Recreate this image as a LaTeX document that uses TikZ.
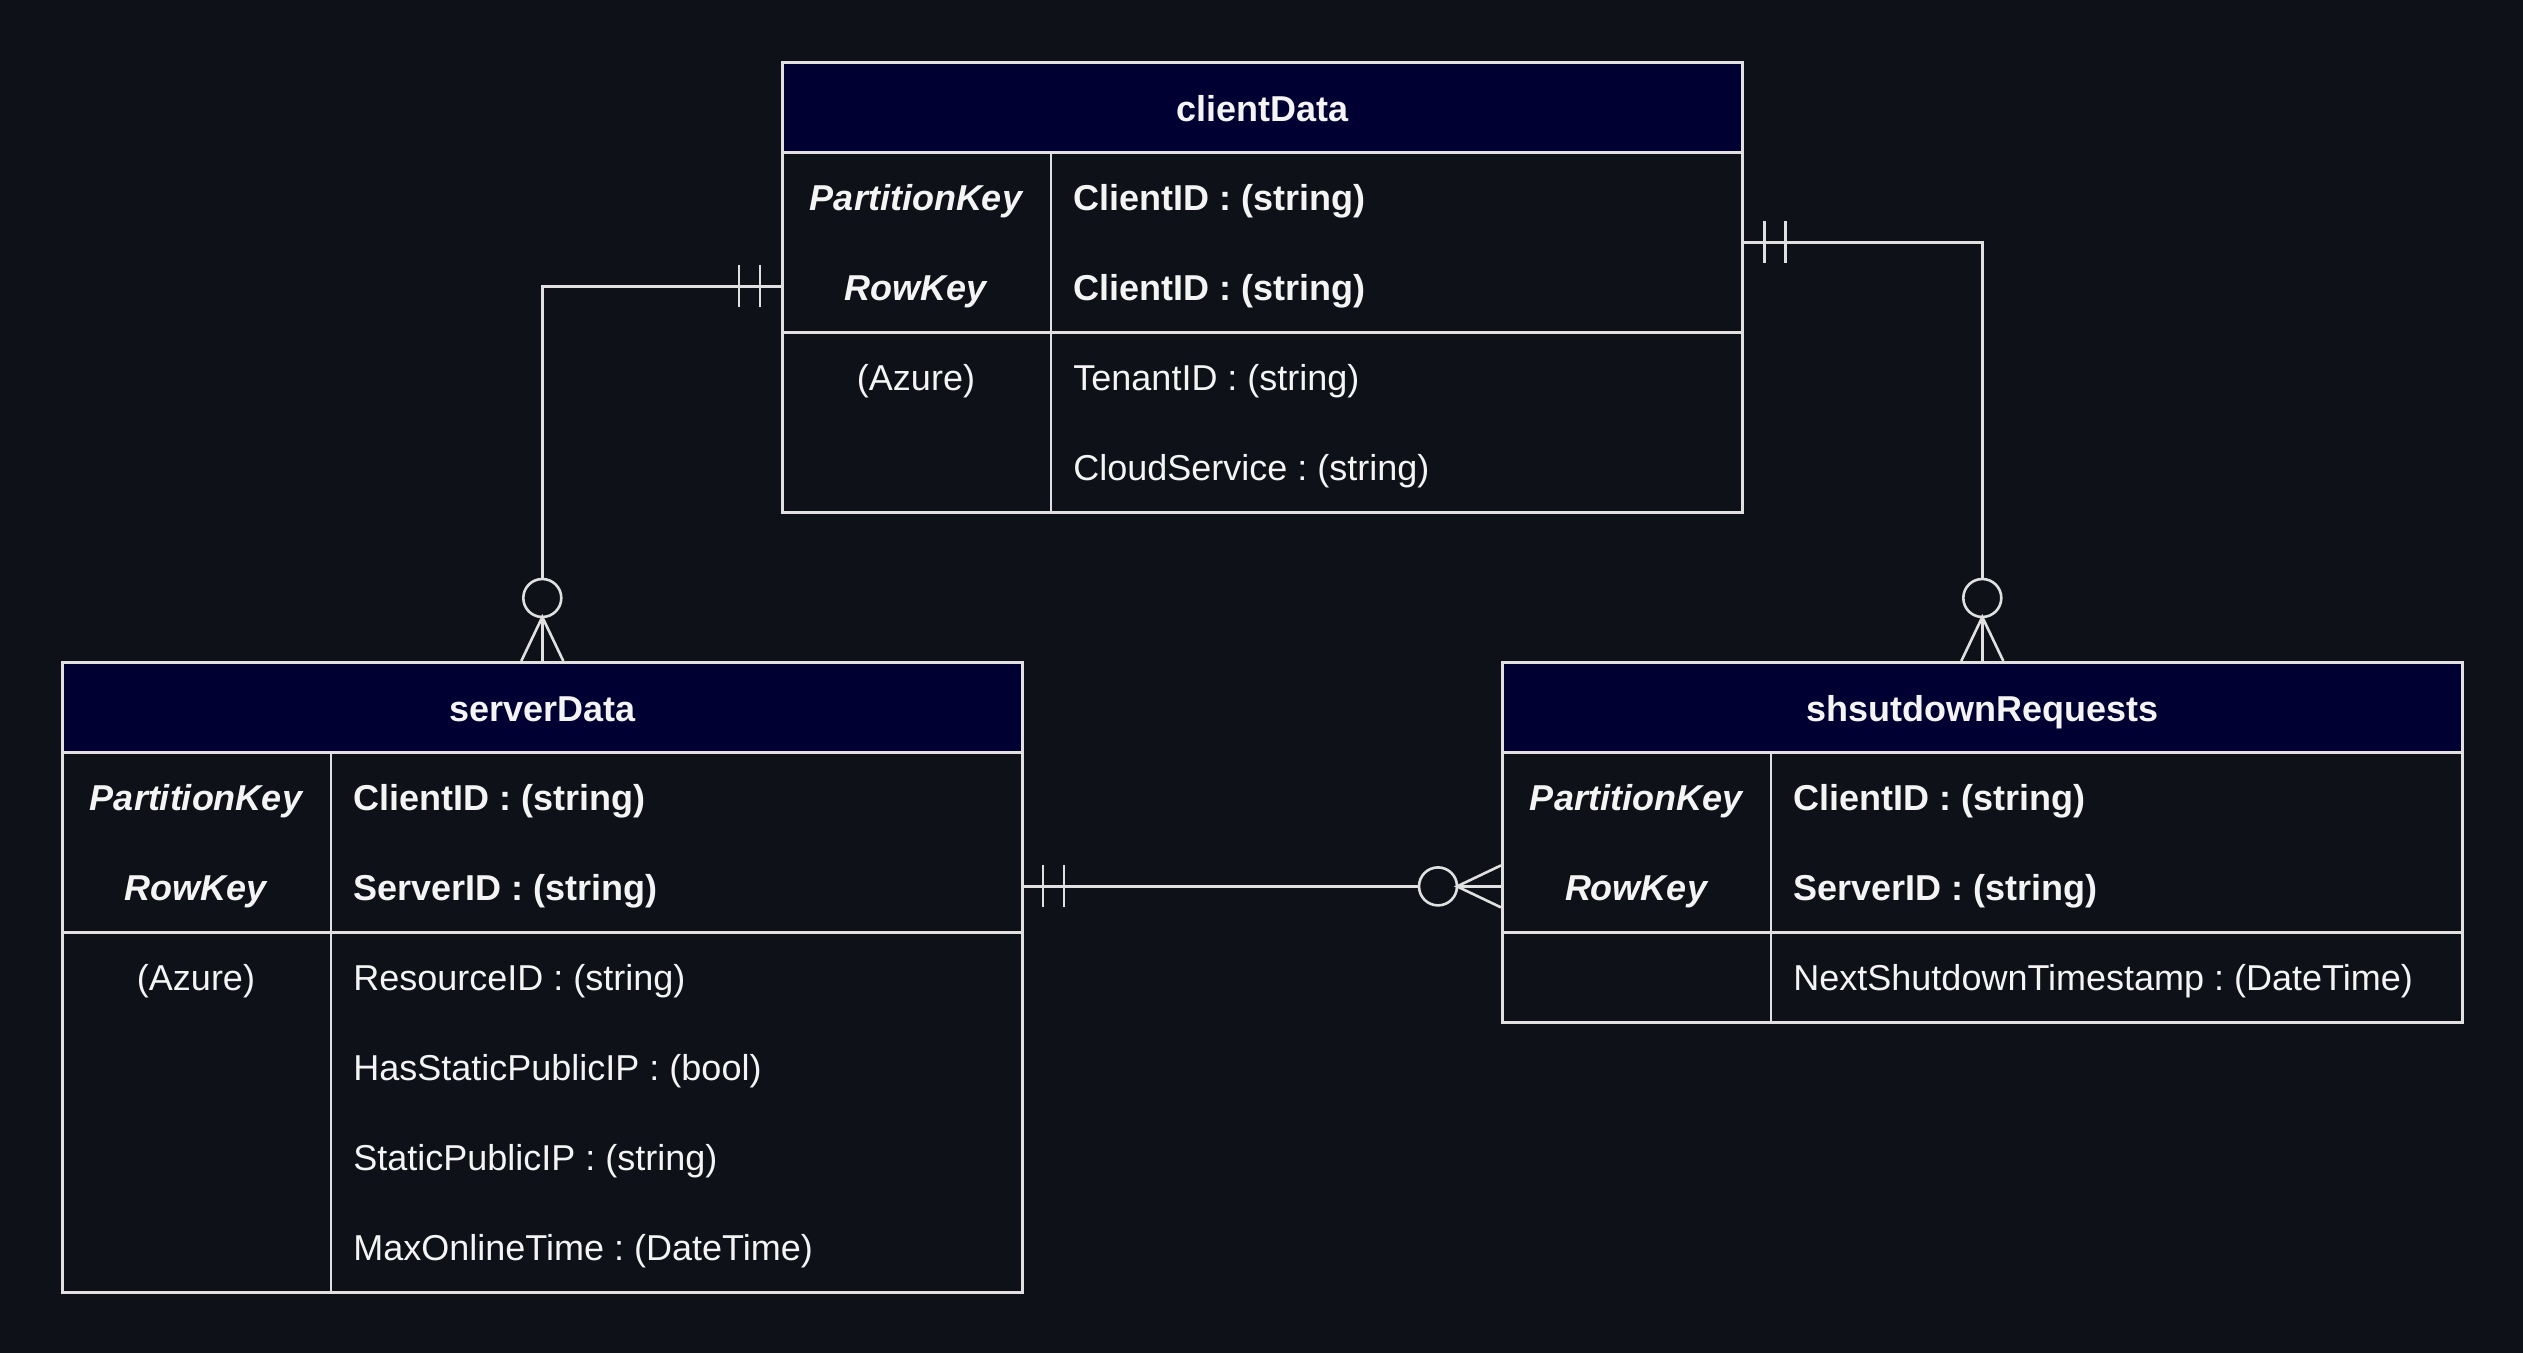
\documentclass[tikz,border=0pt]{standalone}
\usepackage{fontspec}
\setmainfont{Liberation Sans}
\usetikzlibrary{calc}
\definecolor{bgc}{HTML}{0E1118}
\definecolor{hdrc}{HTML}{000033}
\definecolor{lnc}{HTML}{E0E0E0}
\definecolor{txc}{HTML}{F4F4F4}
\newcommand\erfs{\fontsize{18pt}{22pt}\selectfont\frenchspacing}
\begin{document}
\begin{tikzpicture}[x=0.5pt,y=-0.5pt,
  ln/.style={draw=lnc, line width=1.3pt},
  tbl/.style={ln, rectangle, inner sep=0pt, minimum width=480pt, anchor=north west},
  hdr/.style={tbl, fill=hdrc, minimum height=45pt},
  rowbox/.style={rectangle, inner sep=0pt, minimum width=480pt, minimum height=45pt, anchor=north west},
  keyblk/.style={tbl, minimum height=90pt},
  ttl/.style={text=txc, inner sep=0pt, anchor=base, font=\erfs\bfseries},
  keytxt/.style={text=txc, inner sep=0pt, anchor=base, font=\erfs\bfseries\itshape},
  lbltxt/.style={text=txc, inner sep=0pt, anchor=base, font=\erfs},
  keyattr/.style={text=txc, inner sep=0pt, anchor=base west, font=\erfs\bfseries},
  attr/.style={text=txc, inner sep=0pt, anchor=base west, font=\erfs},
]
\fill[bgc] (0,0) rectangle (2523,1353);
\useasboundingbox (0,0) rectangle (2523,1353);

% ---------- clientData ----------
\node[tbl, minimum height=225pt] (c) at (781,61) {};
\node[hdr] (c-h) at (781,61) {};
\node[ttl] (c-t) at ($(c-h.center)+(0,14)$) {clientData};
\node[keyblk] (c-keys) at (781,151) {};
\node[rowbox] (c-pk) at (781,151) {};
\node[rowbox] (c-rk) at (781,241) {};
\node[rowbox] (c-a1) at (781,331) {};
\node[rowbox] (c-a2) at (781,421) {};
\draw[ln] ($(c-h.south west)+(270,0)$) -- ($(c.south west)+(270,0)$);
\node[keytxt] (c-pkl) at ($(c-pk.west)+(135,14)$) {PartitionKey};
\node[keytxt] (c-rkl) at ($(c-rk.west)+(135,14)$) {RowKey};
\node[lbltxt] (c-a1l) at ($(c-a1.west)+(135,14)$) {(Azure)};
\node[keyattr] (c-pkt) at ($(c-pk.west)+(292,14)$) {ClientID : (string)};
\node[keyattr] (c-rkt) at ($(c-rk.west)+(292,14)$) {ClientID : (string)};
\node[attr] (c-a1t) at ($(c-a1.west)+(292,14)$) {TenantID : (string)};
\node[attr] (c-a2t) at ($(c-a2.west)+(292,14)$) {CloudService : (string)};

% ---------- serverData ----------
\node[tbl, minimum height=315pt] (s) at (61,661) {};
\node[hdr] (s-h) at (61,661) {};
\node[ttl] (s-t) at ($(s-h.center)+(0,14)$) {serverData};
\node[keyblk] (s-keys) at (61,751) {};
\node[rowbox] (s-pk) at (61,751) {};
\node[rowbox] (s-rk) at (61,841) {};
\node[rowbox] (s-a1) at (61,931) {};
\node[rowbox] (s-a2) at (61,1021) {};
\node[rowbox] (s-a3) at (61,1111) {};
\node[rowbox] (s-a4) at (61,1201) {};
\draw[ln] ($(s-h.south west)+(270,0)$) -- ($(s.south west)+(270,0)$);
\node[keytxt] (s-pkl) at ($(s-pk.west)+(135,14)$) {PartitionKey};
\node[keytxt] (s-rkl) at ($(s-rk.west)+(135,14)$) {RowKey};
\node[lbltxt] (s-a1l) at ($(s-a1.west)+(135,14)$) {(Azure)};
\node[keyattr] (s-pkt) at ($(s-pk.west)+(292,14)$) {ClientID : (string)};
\node[keyattr] (s-rkt) at ($(s-rk.west)+(292,14)$) {ServerID : (string)};
\node[attr] (s-a1t) at ($(s-a1.west)+(292,14)$) {ResourceID : (string)};
\node[attr] (s-a2t) at ($(s-a2.west)+(292,14)$) {HasStaticPublicIP : (bool)};
\node[attr] (s-a3t) at ($(s-a3.west)+(292,14)$) {StaticPublicIP : (string)};
\node[attr] (s-a4t) at ($(s-a4.west)+(292,14)$) {MaxOnlineTime : (DateTime)};

% ---------- shsutdownRequests ----------
\node[tbl, minimum height=180pt] (r) at (1501,661) {};
\node[hdr] (r-h) at (1501,661) {};
\node[ttl] (r-t) at ($(r-h.center)+(0,14)$) {shsutdownRequests};
\node[keyblk] (r-keys) at (1501,751) {};
\node[rowbox] (r-pk) at (1501,751) {};
\node[rowbox] (r-rk) at (1501,841) {};
\node[rowbox] (r-a1) at (1501,931) {};
\draw[ln] ($(r-h.south west)+(270,0)$) -- ($(r.south west)+(270,0)$);
\node[keytxt] (r-pkl) at ($(r-pk.west)+(135,14)$) {PartitionKey};
\node[keytxt] (r-rkl) at ($(r-rk.west)+(135,14)$) {RowKey};
\node[keyattr] (r-pkt) at ($(r-pk.west)+(292,14)$) {ClientID : (string)};
\node[keyattr] (r-rkt) at ($(r-rk.west)+(292,14)$) {ServerID : (string)};
\node[attr] (r-a1t) at ($(r-a1.west)+(292,14)$) {NextShutdownTimestamp : (DateTime)};

% ---------- connectors ----------
\coordinate (s-o) at ($(s.north)+(0,-82)$);
\coordinate (r-o) at ($(r.north)+(0,-82)$);
\coordinate (r-oh) at ($(r-rk.west)+(-82,0)$);
\draw[ln] (c-rk.west) -| (s-o);
\draw[ln] (c-keys.east) -| (r-o);
\draw[ln] (s-rk.east) -- (r-oh);

% one-and-only-one marks
\foreach \d in {21,42}{
  \draw[ln] ($(c-rk.west)+(-\d,-21)$) -- ($(c-rk.west)+(-\d,21)$);
  \draw[ln] ($(c-keys.east)+(\d,-21)$) -- ($(c-keys.east)+(\d,21)$);
  \draw[ln] ($(s-rk.east)+(\d,-21)$) -- ($(s-rk.east)+(\d,21)$);
}

% zero-or-many marks (vertical)
\foreach \t in {s,r}{
  \draw[ln, fill=bgc] ($(\t.north)+(0,-63)$) circle[radius=9.5pt];
  \draw[ln] ($(\t.north)+(-21,0)$) -- ($(\t.north)+(0,-44)$) -- ($(\t.north)+(21,0)$);
  \draw[ln] ($(\t.north)+(0,-44)$) -- (\t.north);
}
% zero-or-many mark (horizontal)
\draw[ln, fill=bgc] ($(r-rk.west)+(-63,0)$) circle[radius=9.5pt];
\draw[ln] ($(r-rk.west)+(0,-21)$) -- ($(r-rk.west)+(-44,0)$) -- ($(r-rk.west)+(0,21)$);
\draw[ln] ($(r-rk.west)+(-44,0)$) -- (r-rk.west);
\end{tikzpicture}
\end{document}
